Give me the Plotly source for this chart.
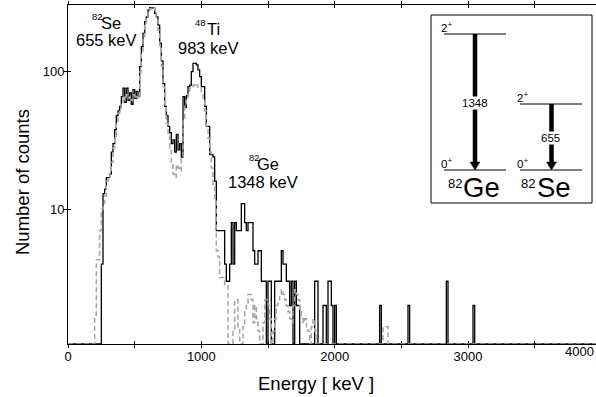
import numpy as np
import plotly.graph_objects as go

# ---------------- data ----------------
BIN_WIDTH_KEV = 12.5
N_BINS = 320  # 0 .. 4000 keV

# measured spectrum (black solid), counts per bin starting at 250 keV
data_first_bin_keV = 250.0
data_counts = [
    4, 13, 14, 17, 17, 18, 26, 30, 38, 48, 52, 56, 66, 76, 60, 76,      # 250-437.5
    62, 70, 58, 74, 64, 72, 66, 109, 152, 190, 231, 250, 281, 292,      # 450-612.5
    290, 292, 265, 250, 218, 161, 120, 82, 56, 48, 40, 36, 30, 32,      # 625-787.5
    26, 35, 27, 30, 24, 66, 55, 67, 78, 80, 100, 115, 115, 112,         # 800-962.5
    103, 92, 78, 78, 56, 40, 40, 25, 25, 24, 16, 7, 7, 7,               # 975-1137.5
    7, 7, 4, 3, 3, 4, 8, 4, 8, 7, 7, 7, 11, 11,                         # 1150-1312.5
    8, 7, 8, 8, 8, 5, 4, 4, 5, 5, 3, 3, 3, 1,                           # 1325-1487.5
    3, 3, 1, 0, 3, 3, 3, 3, 5, 4, 4, 3, 3, 2,                           # 1500-1662.5
    3, 1, 3, 2, 2, 1, 0, 1, 0, 0, 0, 0, 0, 0,                           # 1675-1837.5
    3, 3, 1, 0, 1, 2, 2, 0, 3, 3, 2, 1, 2,                              # 1850-2000
]
data_spike_keV = [2337.5, 2550.0, 2837.5, 3037.5]
data_spike_counts = [2, 2, 3, 2]

# simulation (grey dashed), counts per bin starting at 200 keV
sim_first_bin_keV = 200.0
sim_counts = [
    1.7, 4.3, 4.3, 7, 10, 11, 12.5, 16, 17, 18, 22, 28, 34, 42,         # 200-362.5
    50, 54, 60, 66, 62, 68, 64, 66, 62, 68, 64, 66, 64, 100,            # 375-537.5
    140, 180, 220, 250, 270, 285, 295, 290, 280, 250, 200, 150, 110, 78,  # 550-712.5
    55, 42, 34, 28, 22, 18, 17, 21, 20, 19, 24, 45, 56, 62,             # 725-887.5
    70, 76, 78, 80, 78, 80, 76, 76, 70, 62, 52, 40, 33, 26,             # 900-1062.5
    20, 15, 12, 5, 4.5, 3.2, 3.2, 3.2, 2.8, 2.8, 0, 0, 0, 1.3,          # 1075-1237.5
    2.2, 2.2, 1.4, 0, 0, 1.4, 1.8, 2.0, 2.4, 2.4, 2.2, 1.5, 2.0, 1.6,   # 1250-1412.5
    1.3, 0, 0, 1.5, 2.2, 2.2, 2.0, 1.6, 0, 1.3, 1.6, 2.0, 2.2, 2.4,     # 1425-1587.5
    2.6, 2.4, 2.2, 2.0, 1.8, 1.6, 1.5, 2.0, 2.6, 2.4, 2.2, 1.8, 1.6, 1.5,  # 1600-1762.5
    1.6, 1.4, 1.3, 0, 1.4, 1.6, 1.3,                                    # 1775-1850
]
sim_spike_keV = [2362.5, 2375.0, 2387.5]
sim_spike_counts = [1.4, 1.4, 1.4]

x_tick_vals = [0, 1000, 2000, 3000]
x_tick_text = ["0", "1000", "2000", "3000"]
x_minor_tick_vals = [500, 1500, 2500, 3500]
x_last_tick_label = "4000"
y_tick_vals = [10, 100]
y_tick_text = ["10", "100"]

peak_isotopes = [("82", "Se"), ("48", "Ti"), ("82", "Ge")]
peak_energies = ["655 keV", "983 keV", "1348 keV"]

# ---------------- geometry ----------------
W, H = 596, 397
ML, MR, MT, MB = 68, 0, 5, 53
PW, PH = W - ML - MR, H - MT - MB
X_RANGE = [0, 3960]
Y_LOG_RANGE = [0.0211, 2.4848]
Y_FLOOR = 10 ** Y_LOG_RANGE[0]
FONT = "Liberation Sans, Arial, Helvetica, sans-serif"


def fill(first, counts, spike_e, spike_c):
    arr = np.zeros(N_BINS)
    i0 = int(round(first / BIN_WIDTH_KEV))
    arr[i0:i0 + len(counts)] = counts
    for e, c in zip(spike_e, spike_c):
        arr[int(round(e / BIN_WIDTH_KEV))] = c
    return arr


edges = np.arange(N_BINS + 1) * BIN_WIDTH_KEV


def step_xy(arr):
    y = np.maximum(arr, Y_FLOOR)
    return edges, np.append(y, y[-1])


data_full = fill(data_first_bin_keV, data_counts, data_spike_keV, data_spike_counts)
sim_full = fill(sim_first_bin_keV, sim_counts, sim_spike_keV, sim_spike_counts)

fig = go.Figure()
x, y = step_xy(data_full)
fig.add_trace(go.Scatter(x=x, y=y, mode="lines", line=dict(color="black", width=1.3, shape="hv"),
                         showlegend=False, hoverinfo="skip"))
x, y = step_xy(sim_full)
fig.add_trace(go.Scatter(x=x, y=y, mode="lines",
                         line=dict(color="#a3a3a3", width=1.5, shape="hv", dash="5px,3px"),
                         showlegend=False, hoverinfo="skip"))
# dummy trace for the overlay axes (crossing tick marks)
fig.add_trace(go.Scatter(x=[None], y=[None], xaxis="x2", yaxis="y2", showlegend=False))


def pxx(xp):
    return (xp - ML) / PW


def pxy(yp):
    return (MT + PH - yp) / PH


annotations = []


def ann(text, xp, yp, size, xanchor="center", yanchor="middle", bg=None, angle=0):
    d = dict(text=text, x=pxx(xp), y=pxy(yp), xref="paper", yref="paper", showarrow=False,
             xanchor=xanchor, yanchor=yanchor, font=dict(family=FONT, size=size, color="black"),
             textangle=angle)
    if bg:
        d["bgcolor"] = bg
        d["borderpad"] = 0
    annotations.append(d)


# axis titles
ann("Number of counts", 23, 182, 18.5, angle=-90)
ann("Energy [ keV ]", 316, 384, 18.5)
ann(x_last_tick_label, 579, 351, 13)

# peak labels
peak_pos = [(106, 22.5, 40), (208, 28.5, 48.5), (263, 163.5, 181.5)]
for (mass, sym), en, (cx, y1, y2) in zip(peak_isotopes, peak_energies, peak_pos):
    ann(sym, cx + 5, y1, 16.5)
    ann(mass, cx - 9 if sym != "Ti" else cx - 8, y1 - 6, 9.5, xanchor="center")
    ann(en, cx, y2, 16.5)

# inset level scheme
shapes = []


def line(x0, y0, x1, y1, width=1, color="black"):
    shapes.append(dict(type="line", xref="paper", yref="paper", x0=pxx(x0), y0=pxy(y0),
                       x1=pxx(x1), y1=pxy(y1), line=dict(color=color, width=width), layer="above"))


shapes.append(dict(type="rect", xref="paper", yref="paper", x0=pxx(431), y0=pxy(203),
                   x1=pxx(592), y1=pxy(15), line=dict(color="black", width=1),
                   fillcolor="white", layer="above"))
line(444, 34, 506, 34, 1)
line(444, 170, 506, 170, 1)
line(520, 104, 582, 104, 1)
line(520, 170, 582, 170, 1)


def arrow(xc, ytop, ybot):
    line(xc, ytop, xc, ybot - 7, 4.5)
    path = "M {} {} L {} {} L {} {} Z".format(pxx(xc - 5), pxy(ybot - 8), pxx(xc + 5), pxy(ybot - 8),
                                              pxx(xc), pxy(ybot))
    shapes.append(dict(type="path", xref="paper", yref="paper", path=path,
                       fillcolor="black", line=dict(color="black", width=0.5), layer="above"))


arrow(475, 34, 170)
arrow(551.5, 104, 170)

ann("2<sup>+</sup>", 439, 27, 11.5, xanchor="left")
ann("0<sup>+</sup>", 439, 163, 11.5, xanchor="left")
ann("2<sup>+</sup>", 515, 97, 11.5, xanchor="left")
ann("0<sup>+</sup>", 515, 163, 11.5, xanchor="left")
ann("1348", 475, 103, 11.5, bg="white")
ann("655", 550.5, 138, 11.5, bg="white")
ann("Ge", 481.5, 188, 27.5)
ann("82", 454.5, 183, 13)
ann("Se", 553.5, 188, 27.5)
ann("82", 527.5, 183, 13)

axis_font = dict(family=FONT, size=13, color="black")
fig.update_layout(
    width=W, height=H, autosize=False,
    margin=dict(l=ML, r=MR, t=MT, b=MB, pad=0),
    paper_bgcolor="white", plot_bgcolor="white",
    showlegend=False,
    xaxis=dict(range=X_RANGE, tickvals=x_tick_vals, ticktext=x_tick_text, ticks="inside", ticklen=3,
               tickcolor="black", showline=True, linecolor="black", linewidth=1, mirror="ticks",
               minor=dict(tickvals=x_minor_tick_vals, ticks="inside", ticklen=3, tickcolor="black",
                          showgrid=False),
               showgrid=False, zeroline=False, tickfont=axis_font, layer="below traces"),
    yaxis=dict(type="log", range=Y_LOG_RANGE, tickvals=y_tick_vals, ticktext=y_tick_text,
               ticks="inside", ticklen=3, tickcolor="black", showline=True, linecolor="black",
               linewidth=1, mirror=False, showgrid=False, zeroline=False, tickfont=axis_font),
    xaxis2=dict(range=X_RANGE, overlaying="x", anchor="y2", tickvals=x_tick_vals, ticks="outside",
                ticklen=3, tickcolor="black", showticklabels=False, showline=False, mirror="ticks",
                minor=dict(tickvals=x_minor_tick_vals, ticks="outside", ticklen=3, tickcolor="black",
                           showgrid=False),
                showgrid=False, zeroline=False),
    yaxis2=dict(type="log", range=Y_LOG_RANGE, overlaying="y", anchor="x2", tickvals=y_tick_vals,
                ticks="outside", ticklen=3, tickcolor="black", showticklabels=False, showline=False,
                showgrid=False, zeroline=False),
    annotations=annotations,
    shapes=shapes,
)

fig.write_html("out.html", config={"displayModeBar": False})

# remove the browser's default page margin so the figure sits at the window's corner
with open("out.html", "r", encoding="utf-8") as f:
    html = f.read()
html = html.replace("<head>", "<head><style>html,body{margin:0;padding:0;overflow:hidden;}</style>", 1)
with open("out.html", "w", encoding="utf-8") as f:
    f.write(html)
